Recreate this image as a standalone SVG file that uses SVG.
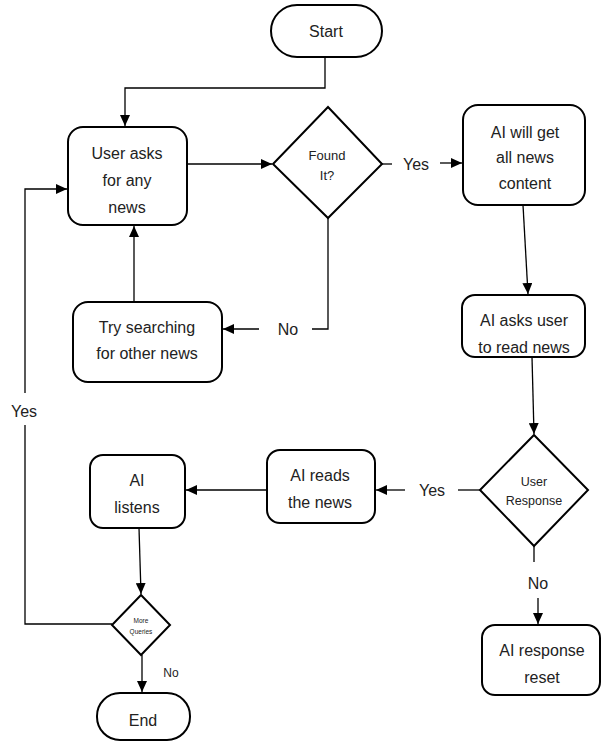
<svg xmlns="http://www.w3.org/2000/svg" width="601" height="742" viewBox="0 0 601 742">
<style>
.n{fill:#fff;stroke:#000;stroke-width:2}
.t{font-family:"Liberation Sans",Arial,sans-serif;font-size:16px;fill:#222;text-anchor:middle}
.c{fill:none;stroke:#000;stroke-width:1.3}
.l{font-family:"Liberation Sans",Arial,sans-serif;font-size:16px;fill:#222;text-anchor:middle}
</style>
<defs>
<marker id="a" markerUnits="userSpaceOnUse" markerWidth="12" markerHeight="10" refX="11" refY="5" orient="auto">
<path d="M0,0 L11,5 L0,10 Z" fill="#000"/>
</marker>
</defs>
<rect width="601" height="742" fill="#fff"/>
<g id="connectors">
<path class="c" d="M325,57 V88 H125 V126" marker-end="url(#a)"/>
<path class="c" d="M187,164 H272" marker-end="url(#a)"/>
<path class="c" d="M382,164 H392"/>
<path class="c" d="M440,163 H462" marker-end="url(#a)"/>
<path class="c" d="M523,205 L528,294" marker-end="url(#a)"/>
<path class="c" d="M328,218 V329 H312"/>
<path class="c" d="M259,329 H223" marker-end="url(#a)"/>
<path class="c" d="M134,302 V226" marker-end="url(#a)"/>
<path class="c" d="M532,357 L534,434" marker-end="url(#a)"/>
<path class="c" d="M480,490 H458"/>
<path class="c" d="M405,490 H376" marker-end="url(#a)"/>
<path class="c" d="M267,490 H186" marker-end="url(#a)"/>
<path class="c" d="M534,546 V562"/>
<path class="c" d="M538,598 V624" marker-end="url(#a)"/>
<path class="c" d="M139,528 L141,594" marker-end="url(#a)"/>
<path class="c" d="M142,655 V692" marker-end="url(#a)"/>
<path class="c" d="M112,624 H25 V425"/>
<path class="c" d="M25,393 V189 H67" marker-end="url(#a)"/>
<text class="l" x="416" y="170">Yes</text>
<text class="l" x="288" y="335">No</text>
<text class="l" x="24" y="417">Yes</text>
<text class="l" x="432" y="496">Yes</text>
<text class="l" x="538" y="589">No</text>
<text class="l" x="171" y="677" style="font-size:12px">No</text>
</g>
<g id="start">
<rect class="n" x="271" y="5" width="111" height="52" rx="26"/>
<text class="t" x="326" y="37">Start</text>
</g>
<g id="user-asks">
<rect class="n" x="68" y="127" width="119" height="98" rx="15"/>
<text class="t" x="127" y="159">User asks</text>
<text class="t" x="127" y="186">for any</text>
<text class="t" x="127" y="213">news</text>
</g>
<g id="found-it">
<polygon class="n" points="328,107 382,164 328,218 273,164"/>
<text class="t" x="327" y="160" style="font-size:13px">Found</text>
<text class="t" x="327" y="180" style="font-size:13px">It?</text>
</g>
<g id="ai-get">
<rect class="n" x="463" y="105" width="122" height="100" rx="15"/>
<text class="t" x="525" y="138">AI will get</text>
<text class="t" x="525" y="163">all news</text>
<text class="t" x="525" y="189">content</text>
</g>
<g id="try-searching">
<rect class="n" x="73" y="302" width="149" height="80" rx="15"/>
<text class="t" x="147" y="333">Try searching</text>
<text class="t" x="147" y="359">for other news</text>
</g>
<g id="ai-asks">
<rect class="n" x="462" y="295" width="123" height="62" rx="13"/>
<text class="t" x="524" y="326">AI asks user</text>
<text class="t" x="524" y="353">to read news</text>
</g>
<g id="user-response">
<polygon class="n" points="534,435 588,490 534,546 480,490"/>
<text class="t" x="534" y="486" style="font-size:12.5px">User</text>
<text class="t" x="534" y="505" style="font-size:12.5px">Response</text>
</g>
<g id="ai-reads">
<rect class="n" x="267" y="450" width="108" height="73" rx="13"/>
<text class="t" x="320" y="481">AI reads</text>
<text class="t" x="320" y="508">the news</text>
</g>
<g id="ai-listens">
<rect class="n" x="90" y="455" width="95" height="73" rx="13"/>
<text class="t" x="137" y="486">AI</text>
<text class="t" x="137" y="513">listens</text>
</g>
<g id="more-queries">
<polygon class="n" points="141,595 170,625 141,655 112,625"/>
<text class="t" x="141" y="623" style="font-size:6.5px">More</text>
<text class="t" x="141" y="634" style="font-size:6.5px">Queries</text>
</g>
<g id="ai-reset">
<rect class="n" x="482" y="625" width="118" height="70" rx="13"/>
<text class="t" x="542" y="656">AI response</text>
<text class="t" x="542" y="683">reset</text>
</g>
<g id="end">
<rect class="n" x="97" y="693" width="93" height="47" rx="23"/>
<text class="t" x="143" y="726">End</text>
</g>
</svg>
